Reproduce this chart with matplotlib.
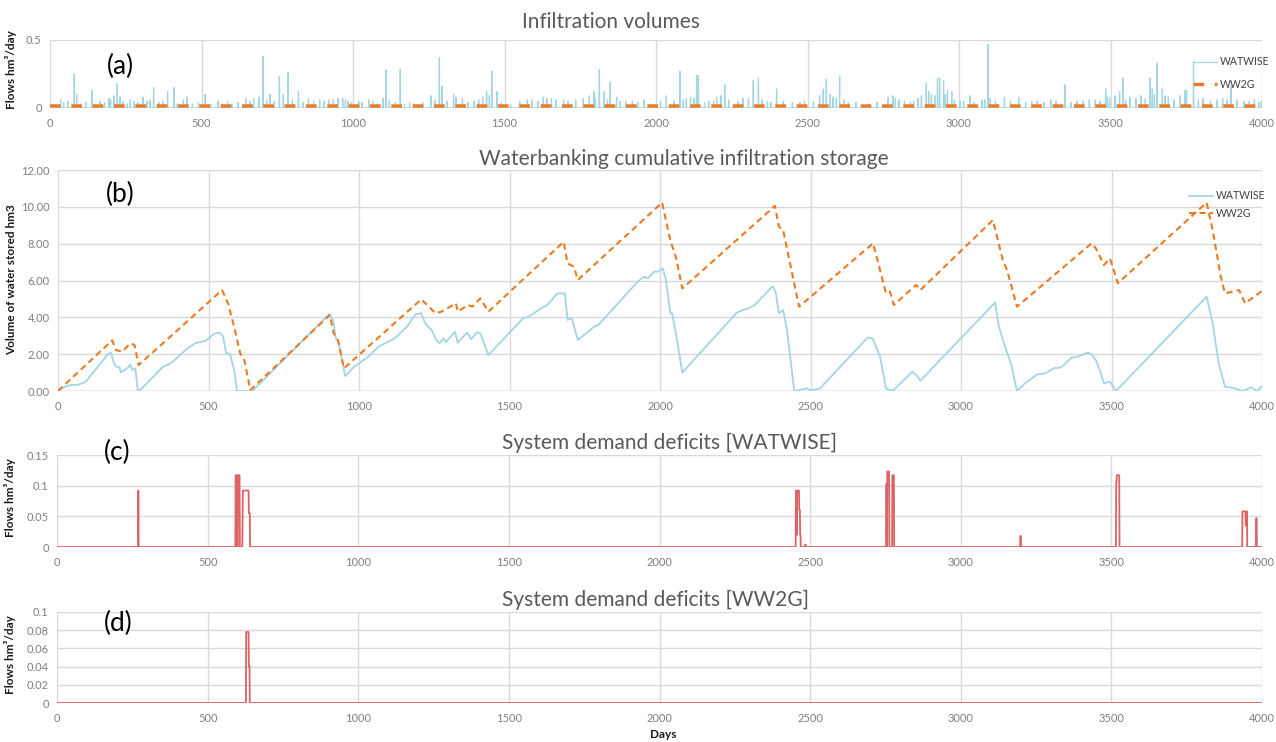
import numpy as np
import matplotlib
matplotlib.use("Agg")
import matplotlib.pyplot as plt

plt.rcParams['font.family'] = ['Lato', 'DejaVu Sans']

# ---------------- data ----------------
N_DAYS = 4000
x_ticks = [0, 500, 1000, 1500, 2000, 2500, 3000, 3500, 4000]

# (a) daily infiltration, WATWISE: (day, hm3/day) events, zero otherwise
infil_watwise_peaks = [
    (35, .06), (80, .25), (88, .10), (138, .13), (195, .07), (211, .09), (222, .18),
    (231, .08), (278, .05), (307, .08), (342, .15), (388, .12), (409, .15), (452, .08),
    (512, .10), (586, .05), (646, .07), (672, .07), (703, .38), (726, .10), (757, .23),
    (770, .10), (786, .26), (820, .12), (853, .07), (920, .06), (966, .07), (984, .05),
    (1019, .05), (1052, .06), (1099, .07), (1109, .28), (1156, .285), (1187, .04),
    (1257, .09), (1285, .37), (1294, .16), (1332, .10), (1361, .07), (1428, .08),
    (1441, .12), (1458, .27), (1475, .12), (1575, .06), (1628, .08), (1655, .07),
    (1695, .06), (1735, .06), (1795, .12), (1813, .285), (1829, .12), (1849, .19),
    (1882, .05), (1922, .05), (1960, .06), (2034, .09), (2079, .27), (2100, .07),
    (2114, .08), (2134, .24), (2140, .24), (2174, .05), (2200, .08), (2214, .09),
    (2227, .17), (2287, .07), (2321, .20), (2338, .22), (2368, .05), (2398, .14),
    (2475, .04), (2552, .14), (2562, .21), (2575, .10), (2584, .08), (2606, .235),
    (2635, .04), (2766, .08), (2782, .09), (2802, .06), (2850, .05), (2876, .09),
    (2892, .18), (2909, .10), (2929, .22), (2936, .22), (2949, .20), (2962, .13),
    (2976, .12), (3003, .05), (3036, .09), (3076, .06), (3096, .47), (3103, .07),
    (3150, .08), (3197, .08), (3257, .05), (3303, .06), (3350, .17), (3390, .05),
    (3450, .06), (3484, .14), (3497, .07), (3530, .12), (3541, .22), (3564, .08),
    (3584, .07), (3631, .22), (3638, .14), (3654, .33), (3671, .14), (3691, .08),
    (3745, .13), (3751, .13), (3774, .34), (3805, .07), (3852, .06), (3898, .16),
    (3918, .06), (3958, .05), (3998, .05),
]
infil_watwise_minor = [
    (10, .03), (20, .02), (45, .04), (60, .05), (100, .03), (118, .04), (150, .03),
    (165, .05), (180, .04), (200, .06), (240, .05), (255, .03), (265, .06), (290, .04),
    (320, .05), (330, .06), (360, .04), (372, .05), (420, .03), (440, .06), (470, .03),
    (490, .04), (530, .03), (555, .05), (600, .03), (620, .04), (660, .05), (690, .08),
    (715, .06), (740, .05), (800, .06), (835, .04), (870, .05), (890, .06), (905, .05),
    (935, .06), (950, .07), (975, .06), (995, .04), (1030, .04), (1065, .05), (1080, .03),
    (1120, .06), (1140, .04), (1170, .03), (1200, .03), (1230, .04), (1270, .06),
    (1310, .05), (1340, .08), (1380, .04), (1400, .05), (1415, .06), (1450, .09),
    (1490, .04), (1520, .03), (1550, .05), (1590, .06), (1610, .05), (1640, .07),
    (1670, .06), (1710, .05), (1760, .07), (1780, .09), (1800, .07), (1840, .06),
    (1870, .08), (1900, .05), (1940, .04), (1980, .03), (2015, .05), (2060, .05),
    (2090, .06), (2125, .07), (2160, .04), (2190, .05), (2240, .06), (2270, .05),
    (2305, .07), (2350, .06), (2380, .04), (2420, .05), (2450, .04), (2490, .05),
    (2520, .05), (2540, .09), (2595, .07), (2620, .06), (2660, .04), (2700, .03),
    (2730, .04), (2790, .07), (2820, .05), (2840, .04), (2865, .07), (2900, .12),
    (2920, .09), (2955, .10), (2985, .06), (3015, .05), (3050, .04), (3085, .06),
    (3120, .05), (3170, .05), (3220, .04), (3240, .05), (3280, .04), (3320, .05),
    (3370, .04), (3410, .05), (3430, .06), (3465, .05), (3490, .08), (3515, .09),
    (3550, .06), (3600, .09), (3615, .07), (3645, .10), (3680, .09), (3710, .06),
    (3730, .09), (3790, .06), (3830, .05), (3870, .07), (3885, .06), (3940, .05),
    (3975, .06), (3990, .04),
]
infil_ww2g_rate = 0.015  # constant daily infiltration, WW2G

# (b) cumulative storage (hm3) at turning points (day, value)
storage_ww2g = [
    (0, 0), (180, 2.75), (193, 2.22), (214, 2.14), (240, 2.59), (254, 2.5), (268, 1.41),
    (545, 5.48), (565, 4.76), (585, 3.5), (605, 2.05), (619, 1.68), (639, 0.05),
    (903, 4.13), (916, 3.13), (930, 2.77), (950, 1.23), (1207, 4.98), (1254, 4.22),
    (1274, 4.31), (1322, 4.76), (1328, 4.31), (1362, 4.67), (1376, 4.58), (1403, 5.03),
    (1430, 4.31), (1680, 8.1), (1693, 6.93), (1714, 6.75), (1727, 6.03), (2007, 10.23),
    (2034, 8.2), (2054, 7.2), (2074, 5.57), (2382, 10.05), (2395, 8.92), (2409, 8.74),
    (2462, 4.58), (2708, 8.02), (2751, 5.3), (2764, 5.39), (2777, 4.67), (2851, 5.76),
    (2865, 5.48), (3106, 9.28), (3139, 7.1), (3153, 6.57), (3186, 4.58), (3434, 8.02),
    (3448, 7.75), (3475, 6.84), (3495, 7.2), (3521, 5.85), (3816, 10.23), (3836, 8.74),
    (3863, 6.21), (3877, 5.3), (3924, 5.48), (3944, 4.76), (4004, 5.48),
]
storage_watwise = [
    (0, 0), (24, 0.24), (45, 0.33), (65, 0.33), (92, 0.5), (166, 2.0), (176, 2.08),
    (186, 1.5), (193, 1.32), (204, 1.29), (209, 1.0), (234, 1.29), (240, 1.45),
    (247, 1.14), (257, 1.23), (265, 0.05), (270, 0), (349, 1.32), (369, 1.45),
    (382, 1.6), (430, 2.32), (457, 2.6), (491, 2.73), (518, 3.1), (538, 3.17),
    (549, 2.95), (558, 2.08), (572, 1.99), (585, 1.14), (595, 0), (646, 0),
    (900, 4.16), (914, 3.86), (923, 2.86), (932, 2.68), (954, 0.81), (984, 1.32),
    (1031, 1.86), (1065, 2.41), (1119, 2.86), (1159, 3.49), (1189, 4.18), (1207, 4.22),
    (1220, 3.67), (1241, 3.31), (1257, 2.77), (1268, 2.59), (1281, 2.86), (1288, 2.64),
    (1319, 3.22), (1328, 2.62), (1359, 3.17), (1373, 2.81), (1392, 3.19), (1403, 3.13),
    (1430, 1.95), (1545, 3.95), (1565, 4.04), (1605, 4.49), (1626, 4.67), (1659, 5.3),
    (1684, 5.3), (1693, 3.86), (1707, 3.95), (1727, 2.77), (1781, 3.49), (1795, 3.58),
    (1926, 5.94), (1946, 6.21), (1960, 6.12), (1980, 6.48), (1993, 6.48), (2009, 6.66),
    (2020, 6.03), (2034, 4.25), (2040, 4.22), (2054, 3.04), (2074, 1.0), (2255, 4.25),
    (2275, 4.4), (2295, 4.49), (2315, 4.67), (2375, 5.7), (2385, 5.3), (2395, 4.22),
    (2409, 4.4), (2422, 3.31), (2446, 0), (2470, 0.08), (2489, 0.14), (2500, 0.05),
    (2530, 0.12), (2690, 2.9), (2706, 2.86), (2731, 1.86), (2751, 0.14), (2764, 0.05),
    (2773, 0), (2838, 1.05), (2851, 0.87), (2865, 0.56), (3113, 4.8), (3126, 3.49),
    (3146, 2.41), (3166, 1.5), (3186, 0), (3213, 0.42), (3253, 0.9), (3280, 0.96),
    (3307, 1.23), (3334, 1.29), (3367, 1.81), (3387, 1.86), (3420, 2.08), (3434, 2.0),
    (3448, 1.68), (3461, 1.14), (3475, 0.42), (3495, 0.51), (3515, 0), (3816, 5.12),
    (3836, 3.67), (3856, 1.5), (3877, 0.24), (3910, 0.14), (3924, 0.05), (3937, 0),
    (3964, 0.2), (3984, 0), (4011, 0.45),
]

# (c), (d) demand deficits: (first day, last day, hm3/day)
deficit_watwise = [
    (270, 270, .092), (593, 597, .117), (601, 606, .117), (616, 616, .04),
    (617, 636, .092), (637, 640, .055), (2453, 2455, .092), (2456, 2456, .02),
    (2457, 2463, .092), (2464, 2466, .06), (2467, 2468, .02), (2484, 2485, .004),
    (2753, 2754, .103), (2756, 2762, .123), (2773, 2778, .117), (3198, 3199, .018),
    (3516, 3517, .105), (3518, 3526, .117), (3935, 3945, .058), (3946, 3948, .035),
    (3949, 3950, .058), (3981, 3982, .047),
]
deficit_ww2g = [(628, 636, .078), (637, 639, .04)]

# ---------------- helpers ----------------
days = np.arange(N_DAYS + 1)


def daily_from_points(points):
    s = np.zeros(N_DAYS + 1)
    for d, v in points:
        s[d] = max(s[d], v)
    return s


def daily_from_events(events):
    s = np.zeros(N_DAYS + 1)
    for d0, d1, v in events:
        s[d0:d1 + 1] = v
    return s


BLUE = '#a3d5e3'
ORANGE = '#ec7a23'
RED = '#dc6464'
GRID = '#d9d9d9'
TICK = '#7f7f7f'
TITLE = '#595959'
LABEL = '#1a1a1a'

W, H = 1276, 742
RIGHT = 1262
fig = plt.figure(figsize=(W / 100, H / 100), dpi=100)


def add_axes(left, right, top, bottom):
    return fig.add_axes([left / W, 1 - bottom / H, (right - left) / W, (bottom - top) / H])


def style(ax, yticks, yfmt):
    ax.set_xlim(0, N_DAYS)
    ax.set_xticks(x_ticks)
    ax.set_yticks(yticks)
    ax.set_ylim(yticks[0], yticks[-1])
    ax.set_yticklabels([yfmt(v) for v in yticks])
    ax.grid(True, color=GRID, lw=1.0)
    ax.set_axisbelow(True)
    for s in ax.spines.values():
        s.set_visible(False)
    ax.tick_params(length=0, labelsize=8, labelcolor=TICK, pad=6)
    ax.tick_params(axis='x', pad=7)


def fig_text(x, y, s, **kw):
    fig.text(x / W, 1 - y / H, s, **kw)


def fmt_g(v):
    return '%g' % v


legend_kw = dict(bbox_transform=fig.transFigure, frameon=False, fontsize=7.6,
                 handlelength=2.2, handletextpad=0.3, borderpad=0,
                 labelcolor='#404040', loc='upper left')

# ---------------- (a) infiltration volumes ----------------
ax_a = add_axes(50, RIGHT, 40, 108)
style(ax_a, [0, 0.5], fmt_g)
watwise_daily = np.maximum(daily_from_points(infil_watwise_peaks),
                           daily_from_points(infil_watwise_minor))
ax_a.plot(days, watwise_daily, color=BLUE, lw=0.9, label='WATWISE', zorder=2)
ax_a.plot(days, np.full(N_DAYS + 1, infil_ww2g_rate), color=ORANGE, lw=2.4,
          dashes=(3.2, 3.2), label='WW2G', zorder=3)
ax_a.legend(bbox_to_anchor=(1188 / W, 1 - 51 / H), labelspacing=1.1, **legend_kw)

# ---------------- (b) cumulative storage ----------------
ax_b = add_axes(58, RIGHT, 170, 391)
style(ax_b, [0, 2, 4, 6, 8, 10, 12], lambda v: '%.2f' % v)
bx, by = zip(*storage_watwise)
ax_b.plot(bx, by, color=BLUE, lw=1.3, label='WATWISE', zorder=2)
ox, oy = zip(*storage_ww2g)
ax_b.plot(ox, oy, color=ORANGE, lw=1.5, dashes=(3.0, 2.0), label='WW2G', zorder=3)
ax_b.axhline(0, color='#bfbfbf', lw=1.0, zorder=1)
ax_b.legend(bbox_to_anchor=(1184 / W, 1 - 185 / H), labelspacing=0.6, **legend_kw)

# ---------------- (c) deficits WATWISE ----------------
ax_c = add_axes(57, RIGHT, 455, 547)
style(ax_c, [0, 0.05, 0.1, 0.15], fmt_g)
ax_c.plot(days, daily_from_events(deficit_watwise), color=RED, lw=1.3, zorder=2)

# ---------------- (d) deficits WW2G ----------------
ax_d = add_axes(57, RIGHT, 612, 703)
style(ax_d, [0, 0.02, 0.04, 0.06, 0.08, 0.1], fmt_g)
ax_d.plot(days, daily_from_events(deficit_ww2g), color=RED, lw=1.3, zorder=2)

# y axis titles (positions in figure pixels)
ylabel_kw = dict(fontsize=8.5, fontweight='bold', color=LABEL)
ax_a.set_ylabel('Flows hm³/day', **ylabel_kw)
ax_b.set_ylabel('Volume of water stored hm3', **ylabel_kw)
ax_c.set_ylabel('Flows hm³/day', **ylabel_kw)
ax_d.set_ylabel('Flows hm³/day', **ylabel_kw)
ax_a.yaxis.set_label_coords(17 / W, 1 - 70 / H, transform=fig.transFigure)
ax_b.yaxis.set_label_coords(17 / W, 1 - 280 / H, transform=fig.transFigure)
ax_c.yaxis.set_label_coords(16 / W, 1 - 498 / H, transform=fig.transFigure)
ax_d.yaxis.set_label_coords(16 / W, 1 - 655 / H, transform=fig.transFigure)

# titles
title_kw = dict(fontsize=15, color=TITLE, ha='center', va='center')
fig_text(611, 22, 'Infiltration volumes', **title_kw)
fig_text(684, 159, 'Waterbanking cumulative infiltration storage', **title_kw)
fig_text(669, 443, 'System demand deficits [WATWISE]', **title_kw)
fig_text(656, 600, 'System demand deficits [WW2G]', **title_kw)

# panel letters
letter_kw = dict(fontsize=19, color='black', ha='center', va='center')
fig_text(120, 66, '(a)', **letter_kw)
fig_text(120, 194, '(b)', **letter_kw)
fig_text(117, 452, '(c)', **letter_kw)
fig_text(118, 623, '(d)', **letter_kw)

fig_text(663, 735, 'Days', fontsize=8.5, fontweight='bold', color=LABEL,
         ha='center', va='center')

fig.savefig('out.png', dpi=100, facecolor='white')
